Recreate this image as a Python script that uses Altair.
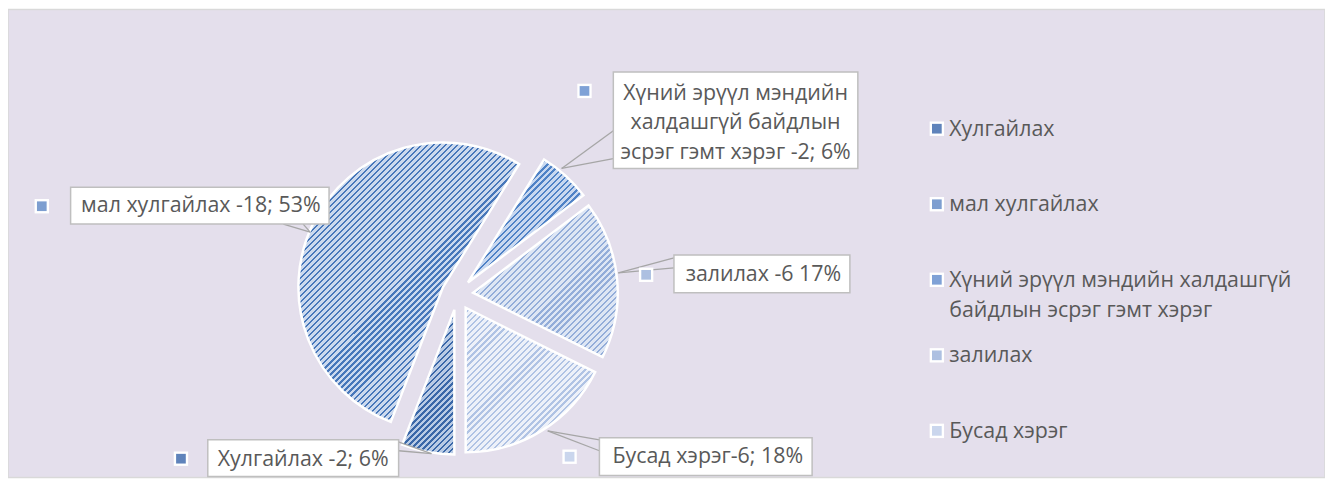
import math
import altair as alt
import pandas as pd

# ---------------- data ----------------
categories = [
    "Хулгайлах",
    "мал хулгайлах",
    "Хүний эрүүл мэндийн халдашгүй байдлын эсрэг гэмт хэрэг",
    "залилах",
    "Бусад хэрэг",
]
values = [2, 18, 2, 6, 6]
label_texts = [
    "Хулгайлах -2; 6%",
    "мал хулгайлах -18; 53%",
    "Хүний эрүүл мэндийн\nхалдашгүй байдлын\nэсрэг гэмт хэрэг -2; 6%",
    "залилах -6 17%",
    "Бусад хэрэг-6; 18%",
]
legend_labels = [
    "Хулгайлах",
    "мал хулгайлах",
    "Хүний эрүүл мэндийн халдашгүй\nбайдлын эсрэг гэмт хэрэг",
    "залилах",
    "Бусад хэрэг",
]

# ---------------- style ----------------
colors = ["#5f83bb", "#7d9ed0", "#7fa1d6", "#adc0e1", "#cad6ed"]
stripe_dark = ["#3a67a8", "#4777ba", "#4f82c6", "#93add9", "#b0c3e4"]
stripe_light = ["#b9cbe5", "#cbd9ee", "#c8d8f0", "#dde6f4", "#edf1f9"]
STRIPE_PERIOD = 4.3
DARK_FRAC = 0.38
BG = "#E4DFEC"
TEXT = "#595959"
FONT = "Open Sans"
FS = 21.5

# ---------------- layout (view pixels) ----------------
W, H = 1325, 471
CX, CY, R, EXPLODE = 452, 286.5, 145.5, 16
box_x0 = [201, 63, 609, 670, 595]
box_x1 = [393, 323, 855, 847, 809]
box_y0 = [433, 179, 63, 247, 431]
box_y1 = [470, 216, 160, 285, 469]
text_x = [297, 194, 732, 760, 704]
text_y = [453, 198, 85, 267, 450]
mark_x = [174, 34, 580, 642, 565]
mark_y = [452, 198, 82, 267, 450]
lead_a = [(387, 433), (277, 216), (609, 122), (670, 250), (595, 433)]
lead_b = [(393, 444), (297, 216), (609, 150), (670, 260), (595, 444)]
lead_p = [(426, 447), (304, 224), (557, 160), (614, 265), (543, 424)]
LEG_X, LEG_Y0, LEG_DY = 934.5, 120, 76

total = sum(values)
color_scale = alt.Scale(domain=categories, range=colors)
theta_scale = alt.Scale(domain=[0, total], range=[math.pi, 3 * math.pi])


def stripe_gradient(i):
    """Diagonal stripes as a hard-stop linear gradient sized to slice i's box."""
    c1 = sum(values[: i + 1])
    c0 = c1 - values[i]
    a0 = math.pi + 2 * math.pi * c0 / total
    a1 = math.pi + 2 * math.pi * c1 / total
    mid = (a0 + a1) / 2
    cx = CX + EXPLODE * math.sin(mid)
    cy = CY - EXPLODE * math.cos(mid)
    pts = [(cx, cy)]
    steps = 120
    for k in range(steps + 1):
        a = a0 + (a1 - a0) * k / steps
        pts.append((cx + R * math.sin(a), cy - R * math.cos(a)))
    xs = [p[0] for p in pts]
    ys = [p[1] for p in pts]
    w = max(xs) - min(xs)
    h = max(ys) - min(ys)
    s = (w + h) * w / (w * w + h * h)
    n = max(1, int(round((w + h) / (math.sqrt(2) * STRIPE_PERIOD))))
    stops = []
    for k in range(n):
        o0 = k / n
        om = (k + 1 - DARK_FRAC) / n
        o1 = (k + 1) / n
        stops += [
            {"offset": o0, "color": stripe_light[i]},
            {"offset": om, "color": stripe_light[i]},
            {"offset": om, "color": stripe_dark[i]},
            {"offset": o1, "color": stripe_dark[i]},
        ]
    return {"gradient": "linear", "x1": 0, "y1": 0, "x2": s, "y2": s * h / w, "stops": stops}


pie_df = pd.DataFrame({"category": categories, "value": values, "order": list(range(len(values)))})

pie_base = (
    alt.Chart(pie_df)
    .transform_window(c1="sum(value)", sort=[alt.SortField("order")], frame=[None, 0])
    .transform_calculate(
        c0="datum.c1 - datum.value",
        mid=f"PI + PI * (datum.c1 - datum.value / 2) * 2 / {total}",
    )
    .transform_calculate(
        px=f"{CX} + {EXPLODE} * sin(datum.mid)",
        py=f"{CY} - {EXPLODE} * cos(datum.mid)",
    )
)

pie_layers = []
for i in range(len(categories)):
    pie_layers.append(
        pie_base.transform_filter(f"datum.order == {i}")
        .mark_arc(radius=R, stroke="white", strokeWidth=2.5, fill=stripe_gradient(i))
        .encode(
            theta=alt.Theta("c0:Q", stack=False, scale=theta_scale),
            theta2="c1:Q",
            x=alt.X("px:Q", scale=None),
            y=alt.Y("py:Q", scale=None),
        )
    )

lead_rows = []
for i in range(len(categories)):
    for a in (lead_a[i], lead_b[i]):
        lead_rows.append({"x": a[0], "y": a[1], "x2": lead_p[i][0], "y2": lead_p[i][1]})
lead_df = pd.DataFrame(lead_rows)
leaders = alt.Chart(lead_df).mark_rule(color="#A6A6A6", strokeWidth=1.3).encode(
    x=alt.X("x:Q", scale=None), y=alt.Y("y:Q", scale=None),
    x2="x2:Q", y2="y2:Q",
)

lab_df = pd.DataFrame({
    "category": categories, "label": label_texts,
    "x0": box_x0, "x1": box_x1, "y0": box_y0, "y1": box_y1,
    "tx": text_x, "ty": text_y, "mx": mark_x, "my": mark_y,
})
boxes = alt.Chart(lab_df).mark_rect(fill="white", stroke="#BFBFBF", strokeWidth=1.5).encode(
    x=alt.X("x0:Q", scale=None), x2="x1:Q",
    y=alt.Y("y0:Q", scale=None), y2="y1:Q",
)
texts = alt.Chart(lab_df).mark_text(
    font=FONT, fontSize=FS, color=TEXT, align="center", baseline="middle",
    lineBreak="\n", lineHeight=29.5,
).encode(
    x=alt.X("tx:Q", scale=None), y=alt.Y("ty:Q", scale=None), text="label:N",
)
mk_white = alt.Chart(lab_df).mark_square(color="white", size=210, opacity=1).encode(
    x=alt.X("mx:Q", scale=None), y=alt.Y("my:Q", scale=None),
)
mk_col = alt.Chart(lab_df).mark_square(size=95, opacity=1).encode(
    x=alt.X("mx:Q", scale=None), y=alt.Y("my:Q", scale=None),
    color=alt.Color("category:N", scale=color_scale, legend=None),
)

leg_df = pd.DataFrame({"category": categories, "label": legend_labels, "i": list(range(len(categories)))})
leg_base = alt.Chart(leg_df).transform_calculate(
    ly=f"{LEG_Y0} + datum.i * {LEG_DY}",
    lty=f"{LEG_Y0} + datum.i * {LEG_DY} + 7",
    lx=f"{LEG_X}",
    ltx=f"{LEG_X} + 12.5",
)
leg_white = leg_base.mark_square(color="white", size=210, opacity=1).encode(
    x=alt.X("lx:Q", scale=None), y=alt.Y("ly:Q", scale=None),
)
leg_col = leg_base.mark_square(size=95, opacity=1).encode(
    x=alt.X("lx:Q", scale=None), y=alt.Y("ly:Q", scale=None),
    color=alt.Color("category:N", scale=color_scale, legend=None),
)
leg_text = leg_base.mark_text(
    font=FONT, fontSize=FS, color=TEXT, align="left", baseline="alphabetic",
    lineBreak="\n", lineHeight=30,
).encode(
    x=alt.X("ltx:Q", scale=None), y=alt.Y("lty:Q", scale=None), text="label:N",
)

chart = (
    alt.layer(*pie_layers, leaders, boxes, texts, mk_white, mk_col, leg_white, leg_col, leg_text)
    .properties(width=W, height=H, padding=0, autosize=alt.AutoSizeParams(type="none"),
                background="white")
    .configure_view(fill=BG, stroke="#D9D9D9", strokeWidth=1.5)
)

chart.save("out.html", embed_options={"renderer": "svg", "actions": False})
